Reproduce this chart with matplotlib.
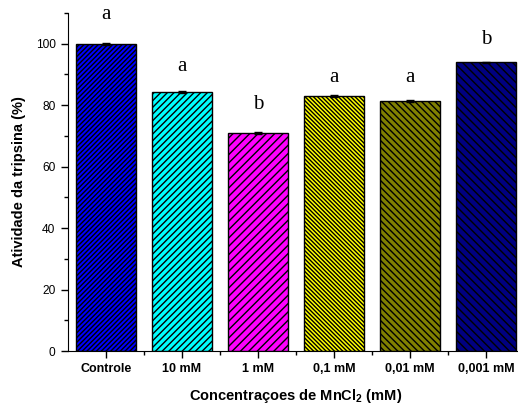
import matplotlib
matplotlib.use("Agg")
import matplotlib.pyplot as plt
from matplotlib.ticker import FixedLocator

# Trypsin activity under MnCl2 concentrations
categories = ["Controle", "10 mM", "1 mM", "0,1 mM", "0,01 mM", "0,001 mM"]
activity = [100.0, 84.2, 71.0, 82.9, 81.3, 93.9]
errors = [0.3, 0.3, 0.3, 0.3, 0.3, 0.3]
letters = ["a", "a", "b", "a", "a", "b"]
letter_y = [109.4, 92.5, 80.2, 89.0, 89.0, 101.3]
colors = ["#0000FF", "#00FFFF", "#FF00FF", "#FFFF00", "#808000", "#000080"]
hatches = ["/" * 7, "/" * 5, "/" * 4, "\\" * 8, "\\" * 5, "\\" * 4]

plt.rcParams["hatch.linewidth"] = 1.0
plt.rcParams["mathtext.fontset"] = "custom"
plt.rcParams["mathtext.bf"] = "Liberation Sans:bold"
plt.rcParams["mathtext.rm"] = "Liberation Sans:bold"

fig = plt.figure(figsize=(5.18, 4.09), dpi=100)
ax = fig.add_axes([68 / 518, 58 / 409, 456 / 518, 338 / 409])

x = list(range(len(categories)))
bars = ax.bar(x, activity, width=0.8, color=colors, edgecolor="black",
              linewidth=1.0, zorder=2)
for b, h in zip(bars, hatches):
    b.set_hatch(h)
ax.errorbar(x, activity, yerr=errors, fmt="none", ecolor="black",
            elinewidth=1.0, capsize=3, capthick=1.0, zorder=3)

for xi, t, yy in zip(x, letters, letter_y):
    ax.text(xi, yy, t, ha="center", va="center", fontsize=15,
            family="Liberation Serif")

ax.set_xlim(-0.5, 5.5)
ax.set_ylim(0, 110)
ax.spines["top"].set_visible(False)
ax.spines["right"].set_visible(False)

ax.yaxis.set_major_locator(FixedLocator([0, 20, 40, 60, 80, 100]))
ax.yaxis.set_minor_locator(FixedLocator([10, 30, 50, 70, 90, 110]))
ax.set_xticks(x)
ax.set_xticklabels(categories, fontsize=9, fontweight="bold",
                   family="Liberation Sans")
ax.xaxis.set_minor_locator(FixedLocator([0.5, 1.5, 2.5, 3.5, 4.5]))
ax.tick_params(axis="both", which="major", direction="out", length=5,
               width=1.0, pad=4)
ax.tick_params(axis="both", which="minor", direction="out", length=3,
               width=1.0)
ax.tick_params(axis="x", which="major", pad=4)
for lbl in ax.get_yticklabels():
    lbl.set_fontsize(8.6)
    lbl.set_family("Liberation Sans")

ax.set_ylabel("Atividade da tripsina (%)", fontsize=10.5, fontweight="bold",
              family="Liberation Sans", labelpad=7)
ax.set_xlabel(r"Concentraçoes de MnCl$_\mathbf{2}$ (mM)", fontsize=10.5,
              fontweight="bold", family="Liberation Sans", labelpad=8)

fig.savefig("out.png", dpi=100)
